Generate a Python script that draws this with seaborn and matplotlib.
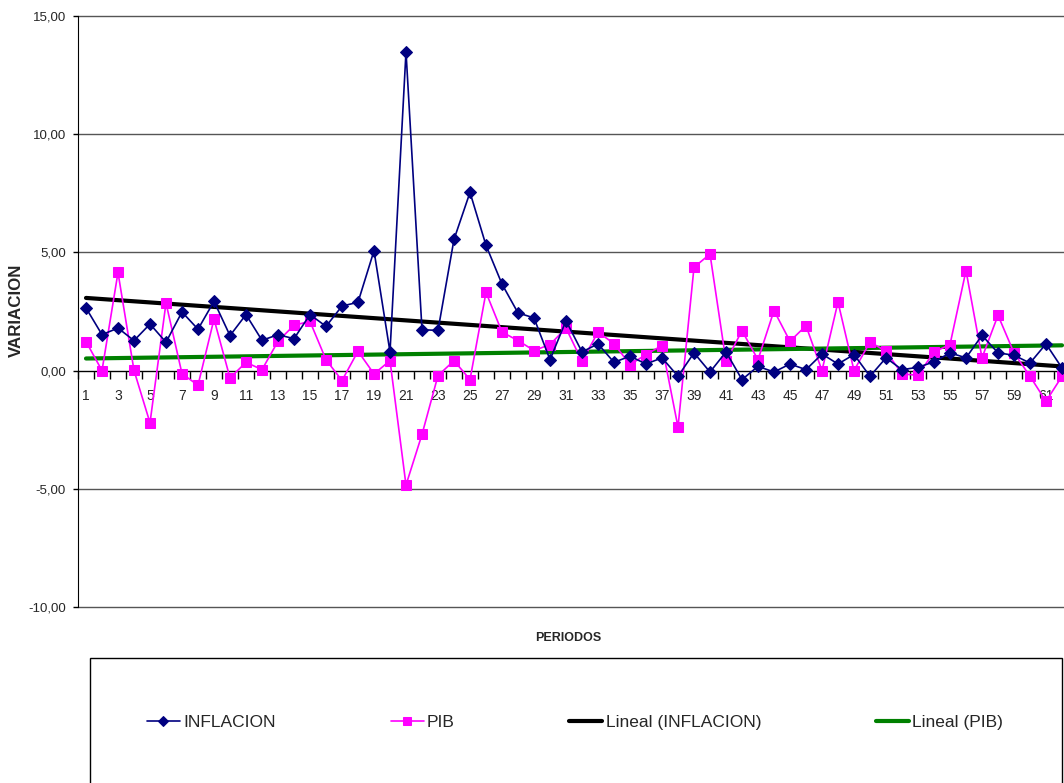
import numpy as np
import pandas as pd
import matplotlib
matplotlib.use("Agg")
import matplotlib.pyplot as plt
from matplotlib.patches import Rectangle
from matplotlib.ticker import FuncFormatter, MultipleLocator
import seaborn as sns

# values, one per period
inflacion = [2.65, 1.52, 1.80, 1.27, 1.97, 1.20, 2.48, 1.75, 2.93, 1.48,
             2.37, 1.28, 1.52, 1.35, 2.37, 1.87, 2.73, 2.89, 5.07, 0.79,
             13.49, 1.73, 1.70, 5.55, 7.54, 5.30, 3.66, 2.44, 2.23, 0.46,
             2.11, 0.79, 1.13, 0.35, 0.61, 0.28, 0.54, -0.24, 0.75, -0.06,
             0.79, -0.38, 0.18, -0.06, 0.28, 0.04, 0.70, 0.28, 0.68, -0.24,
             0.54, 0.04, 0.14, 0.37, 0.75, 0.54, 1.49, 0.75, 0.65, 0.32,
             1.13, 0.11]
pib = [1.23, 0.00, 4.15, 0.01, -2.21, 2.86, -0.13, -0.62, 2.18, -0.31,
       0.35, 0.04, 1.24, 1.92, 2.08, 0.46, -0.42, 0.82, -0.14, 0.42,
       -4.84, -2.70, -0.21, 0.42, -0.38, 3.31, 1.63, 1.27, 0.85, 1.10,
       1.80, 0.39, 1.63, 1.14, 0.25, 0.68, 1.06, -2.39, 4.37, 4.93,
       0.39, 1.69, 0.46, 2.54, 1.24, 1.90, 0.00, 2.90, 0.00, 1.21,
       0.82, -0.14, -0.20, 0.79, 1.10, 4.23, 0.54, 2.34, 0.75, -0.24,
       -1.30, -0.24]
periodos = list(range(1, len(inflacion) + 1))
y_ticks = [-10, -5, 0, 5, 10, 15]

df = pd.DataFrame({'periodo': periodos, 'INFLACION': inflacion, 'PIB': pib})

sns.set_style('white')
plt.rcParams['font.family'] = ['Liberation Sans', 'DejaVu Sans']

W, H = 1064, 783
fig = plt.figure(figsize=(W / 100, H / 100), dpi=100)
ax = fig.add_axes([78 / W, 1 - 607 / H, (W - 78) / W, 591 / H])
ax.set_xlim(0.5, 62.125)
ax.set_ylim(-10, 15)

navy, magenta = '#000080', '#FF00FF'

# trend lines first so the series sit on top
sns.regplot(data=df, x='periodo', y='INFLACION', ax=ax, scatter=False, ci=None,
            color='black', label='Lineal (INFLACION)', line_kws={'lw': 3, 'zorder': 2})
sns.regplot(data=df, x='periodo', y='PIB', ax=ax, scatter=False, ci=None,
            color='#008000', label='Lineal (PIB)', line_kws={'lw': 3, 'zorder': 2})

sns.lineplot(data=df, x='periodo', y='INFLACION', ax=ax, color=navy, lw=1.2,
             marker='D', markersize=6.5, markeredgecolor=navy, markerfacecolor=navy,
             label='INFLACION', zorder=4)
sns.lineplot(data=df, x='periodo', y='PIB', ax=ax, color=magenta, lw=1.2,
             marker='s', markersize=6.5, markeredgecolor=magenta, markerfacecolor=magenta,
             label='PIB', zorder=3)
if ax.get_legend() is not None:
    ax.get_legend().remove()

# axes styling, Excel-like
for s in ['top', 'right']:
    ax.spines[s].set_visible(False)
ax.spines['left'].set_color('black')
ax.spines['bottom'].set_color('black')
ax.spines['bottom'].set_position(('data', 0))
ax.set_yticks(y_ticks)
ax.yaxis.set_major_formatter(FuncFormatter(lambda v, p: f'{v:.2f}'.replace('.', ',')))
ax.yaxis.grid(True, color='#555555', lw=1)
for gl in ax.get_ygridlines():
    gl.set_clip_on(False)
ax.set_axisbelow(True)
ax.tick_params(axis='y', left=True, length=3.6, width=1, pad=5, labelsize=9.5, color='black')

ax.set_xticks(periodos[::2])
ax.set_xticklabels([str(p) for p in periodos[::2]])
ax.xaxis.set_minor_locator(MultipleLocator(1, offset=0.5))
ax.tick_params(axis='x', which='major', bottom=True, length=0, pad=13, labelsize=10)
ax.tick_params(axis='x', which='minor', bottom=True, length=6, width=1, color='black')

ax.set_xlabel('PERIODOS', fontsize=9, fontweight='bold')
ax.xaxis.set_label_coords((568 - 78) / (W - 78), -0.042)
ax.set_ylabel('VARIACION', fontsize=12.2, fontweight='bold')
ax.yaxis.set_label_coords((23.5 - 78) / (W - 78), 0.502)

# legend box at the bottom
fig.patches.append(Rectangle((90 / W, -0.05), (1062 - 90) / W, 0.05 + 1 - 658 / H,
                             transform=fig.transFigure, fill=False, ec='black', lw=1))
h, l = ax.get_legend_handles_labels()
order = ['INFLACION', 'PIB', 'Lineal (INFLACION)', 'Lineal (PIB)']
hs = [h[l.index(k)] for k in order]
fig.legend(hs, order, loc='center left', bbox_to_anchor=(147 / W, 1 - 722 / H),
           frameon=False, ncol=4, borderaxespad=0, borderpad=0, fontsize=12.5,
           handlelength=1.9, handletextpad=0.2, columnspacing=6.6, markerscale=0.8)

fig.savefig('out.png', dpi=100)
